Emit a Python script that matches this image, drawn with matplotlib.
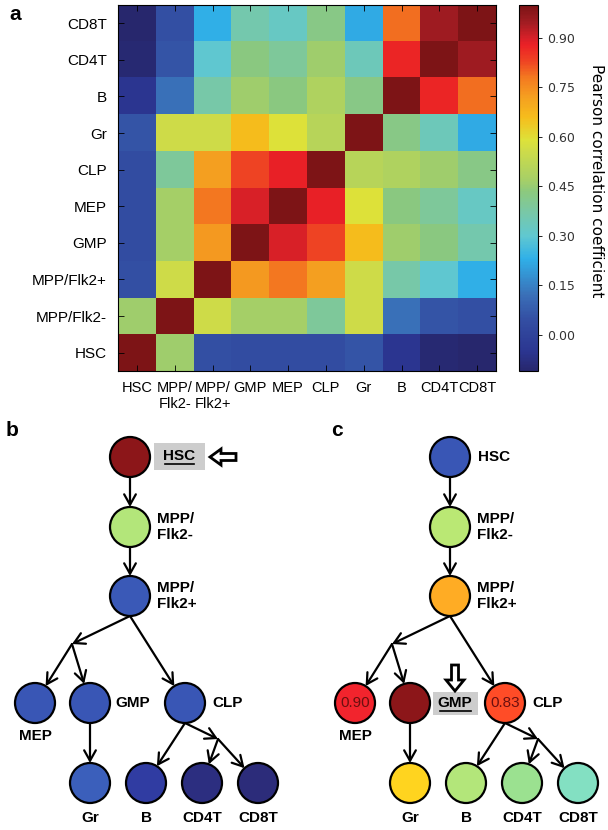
import numpy as np
import matplotlib
matplotlib.use("Agg")
import matplotlib.pyplot as plt
from matplotlib.colors import LinearSegmentedColormap
from matplotlib.patches import Circle, Rectangle, FancyArrow

plt.rcParams['font.family'] = ['Liberation Sans', 'DejaVu Sans']

# cell types, in heatmap order (bottom -> top, left -> right)
cells = ["HSC", "MPP/Flk2-", "MPP/Flk2+", "GMP", "MEP", "CLP", "Gr", "B", "CD4T", "CD8T"]
x_tick_labels = ["HSC", "MPP/\nFlk2-", "MPP/\nFlk2+", "GMP", "MEP", "CLP", "Gr", "B", "CD4T", "CD8T"]

# Pearson correlation, one row per cell type
hsc = [1.00, 0.46, 0.05, 0.04, 0.04, 0.04, 0.06, -0.05, -0.10, -0.11]
flk2_neg = [0.46, 1.00, 0.56, 0.47, 0.47, 0.39, 0.56, 0.12, 0.06, 0.05]
flk2_pos = [0.05, 0.56, 1.00, 0.73, 0.78, 0.72, 0.56, 0.37, 0.30, 0.23]
gmp = [0.04, 0.47, 0.73, 1.00, 0.90, 0.83, 0.66, 0.46, 0.43, 0.36]
mep = [0.04, 0.47, 0.78, 0.90, 1.00, 0.88, 0.59, 0.43, 0.39, 0.32]
clp = [0.04, 0.39, 0.72, 0.83, 0.88, 1.00, 0.51, 0.49, 0.46, 0.42]
gr = [0.06, 0.56, 0.56, 0.66, 0.59, 0.51, 1.00, 0.42, 0.34, 0.22]
b_cell = [-0.05, 0.12, 0.37, 0.46, 0.43, 0.49, 0.42, 1.00, 0.87, 0.79]
cd4t = [-0.10, 0.06, 0.30, 0.43, 0.39, 0.46, 0.34, 0.87, 1.00, 0.95]
cd8t = [-0.11, 0.05, 0.23, 0.36, 0.32, 0.42, 0.22, 0.79, 0.95, 1.00]

corr = np.array([hsc, flk2_neg, flk2_pos, gmp, mep, clp, gr, b_cell, cd4t, cd8t])
cbar_ticks = [0.00, 0.15, 0.30, 0.45, 0.60, 0.75, 0.90]
vmin, vmax = -0.11, 1.0

# printed-looking jet
jet_muted = LinearSegmentedColormap.from_list("jet_muted", [
    (0.0, '#27276d'), (0.05, '#2b3590'), (0.144, '#3450a4'), (0.207, '#3a70b8'),
    (0.306, '#30b0e8'), (0.369, '#60c8d0'), (0.432, '#78c8a8'), (0.49, '#8cc97e'),
    (0.52, '#a5cf68'), (0.604, '#cfdc48'), (0.631, '#dde23a'), (0.694, '#f6bd1c'),
    (0.748, '#f5a020'), (0.802, '#f47a20'), (0.847, '#ef4423'), (0.892, '#eb2126'),
    (0.91, '#d82028'), (0.955, '#a01c22'), (1.0, '#7d1416')])

W, H = 608, 830
fig = plt.figure(figsize=(W / 100, H / 100), dpi=100)

# full-figure axes in pixel coordinates for the two lineage trees
ax_tree = fig.add_axes([0, 0, 1, 1])
ax_tree.set_xlim(0, W)
ax_tree.set_ylim(H, 0)
ax_tree.axis('off')

# ---- panel a: heatmap ----
ax = fig.add_axes([118 / W, 1 - 371 / H, 378 / W, 366 / H])
im = ax.imshow(corr, cmap=jet_muted, vmin=vmin, vmax=vmax, origin='lower',
               aspect='auto', interpolation='nearest')
ax.set_xticks(range(len(cells)))
ax.set_xticklabels(x_tick_labels, fontsize=10.5, va='top')
ax.set_yticks(range(len(cells)))
ax.set_yticklabels(cells, fontsize=11)
ax.tick_params(direction='in', length=4, width=0.6, top=True, right=True)
ax.tick_params(axis='x', pad=7)
ax.tick_params(axis='y', pad=8)
for s in ax.spines.values():
    s.set_linewidth(0.8)

cax = fig.add_axes([519 / W, 1 - 371 / H, 19 / W, 366 / H])
cb = fig.colorbar(im, cax=cax, ticks=cbar_ticks, format='%.2f')
cb.outline.set_linewidth(0.8)
cax.tick_params(length=3, width=0.6, labelsize=9)
for t in cax.get_yticklabels():
    t.set_family('DejaVu Sans')
    t.set_color('#333333')
fig.text(596 / W, 1 - 181 / H, "Pearson correlation coefficient", rotation=270,
         ha='center', va='center', fontsize=11, family='DejaVu Sans')

fig.text(15 / W, 1 - 14 / H, "a", fontsize=15, fontweight='bold', ha='center', va='center')
fig.text(12 / W, 1 - 430 / H, "b", fontsize=15, fontweight='bold', ha='center', va='center')
fig.text(337 / W, 1 - 430 / H, "c", fontsize=15, fontweight='bold', ha='center', va='center')

# ---- panels b and c: lineage trees ----
R = 20
node_xy = {
    "HSC": (130, 457), "MPP/Flk2-": (130, 527), "MPP/Flk2+": (130, 596),
    "MEP": (35, 703), "GMP": (90, 703), "CLP": (185, 703),
    "Gr": (90, 783), "B": (146, 783), "CD4T": (202, 783), "CD8T": (258, 783),
}
junctions = {"J1": (72, 644), "J2": (218, 739)}
edges = [("HSC", "MPP/Flk2-"), ("MPP/Flk2-", "MPP/Flk2+"), ("MPP/Flk2+", "J1"),
         ("J1", "MEP"), ("J1", "GMP"), ("MPP/Flk2+", "CLP"), ("GMP", "Gr"),
         ("CLP", "B"), ("CLP", "J2"), ("J2", "CD4T"), ("J2", "CD8T")]
arrow_style = '->,head_length=0.75,head_width=0.42'


def point(name, dx):
    if name in junctions:
        x, y = junctions[name]
    else:
        x, y = node_xy[name]
    return np.array([x + dx, y], dtype=float)


def node_color(v):
    # the tree circles are printed a bit brighter than the heatmap
    rgb = np.array(jet_muted((v - vmin) / (vmax - vmin))[:3])
    return tuple(np.clip(rgb * 1.12, 0, 1))


def draw_tree(dx, values, focus, inner_values=()):
    for a, b in edges:
        start = point(a, dx)
        if a in node_xy:
            start = start + np.array([0, R])
        end = point(b, dx)
        if b in node_xy:
            d = end - start
            end = end - R * d / np.hypot(*d)
        ax_tree.annotate('', xy=end, xytext=start,
                         arrowprops=dict(arrowstyle=arrow_style, lw=1.6, color='black',
                                         shrinkA=0, shrinkB=0))
    for i, name in enumerate(cells):
        x, y = point(name, dx)
        ax_tree.add_patch(Circle((x, y), R, facecolor=node_color(values[i]),
                                 edgecolor='black', lw=1.6, zorder=3))
        if name in inner_values:
            ax_tree.text(x, y, "%.2f" % values[i], ha='center', va='center', fontsize=11,
                         color='#6b0f0f', zorder=4)

    # labels
    lab = dict(fontsize=11, fontweight='bold', zorder=4)
    for name in ["MPP/Flk2-", "MPP/Flk2+"]:
        x, y = point(name, dx)
        ax_tree.text(x + 27, y, name.replace("/", "/\n"), ha='left', va='center',
                     linespacing=1.15, **lab)
    x, y = point("MEP", dx)
    ax_tree.text(x, y + 33, "MEP", ha='center', va='center', **lab)
    x, y = point("CLP", dx)
    ax_tree.text(x + 27, y, "CLP", ha='left', va='center', **lab)
    for name in ["Gr", "B", "CD4T", "CD8T"]:
        x, y = point(name, dx)
        ax_tree.text(x, y + 35, name, ha='center', va='center', **lab)

    # highlighted reference population
    if focus == "HSC":
        x, y = point("HSC", dx)
        ax_tree.add_patch(Rectangle((x + 24, y - 14), 51, 27, facecolor='#cdcdcd',
                                    edgecolor='none', zorder=2))
        ax_tree.text(x + 49, y - 1, "HSC", ha='center', va='center', **lab)
        ax_tree.plot([x + 35, x + 64], [y + 7, y + 7], color='black', lw=1.2, zorder=4)
        ax_tree.add_patch(FancyArrow(x + 106, y, -26, 0, width=7, head_width=16,
                                     head_length=11, length_includes_head=True,
                                     facecolor='white', edgecolor='black', lw=2, zorder=4))
        x, y = point("GMP", dx)
        ax_tree.text(x + 25, y, "GMP", ha='left', va='center', **lab)
    else:
        x, y = point("HSC", dx)
        ax_tree.text(x + 28, y, "HSC", ha='left', va='center', **lab)
        x, y = point("GMP", dx)
        ax_tree.add_patch(Rectangle((x + 23, y - 11), 45, 23, facecolor='#cdcdcd',
                                    edgecolor='none', zorder=2))
        ax_tree.text(x + 45, y, "GMP", ha='center', va='center', **lab)
        ax_tree.plot([x + 30, x + 61], [y + 8, y + 8], color='black', lw=1.2, zorder=4)
        ax_tree.add_patch(FancyArrow(x + 45, y - 38, 0, 26, width=7, head_width=18,
                                     head_length=11, length_includes_head=True,
                                     facecolor='white', edgecolor='black', lw=2, zorder=4))


draw_tree(0, corr[cells.index("HSC")], "HSC")
draw_tree(320, corr[cells.index("GMP")], "GMP", inner_values=("MEP", "CLP"))

fig.savefig("out.png", dpi=100)
